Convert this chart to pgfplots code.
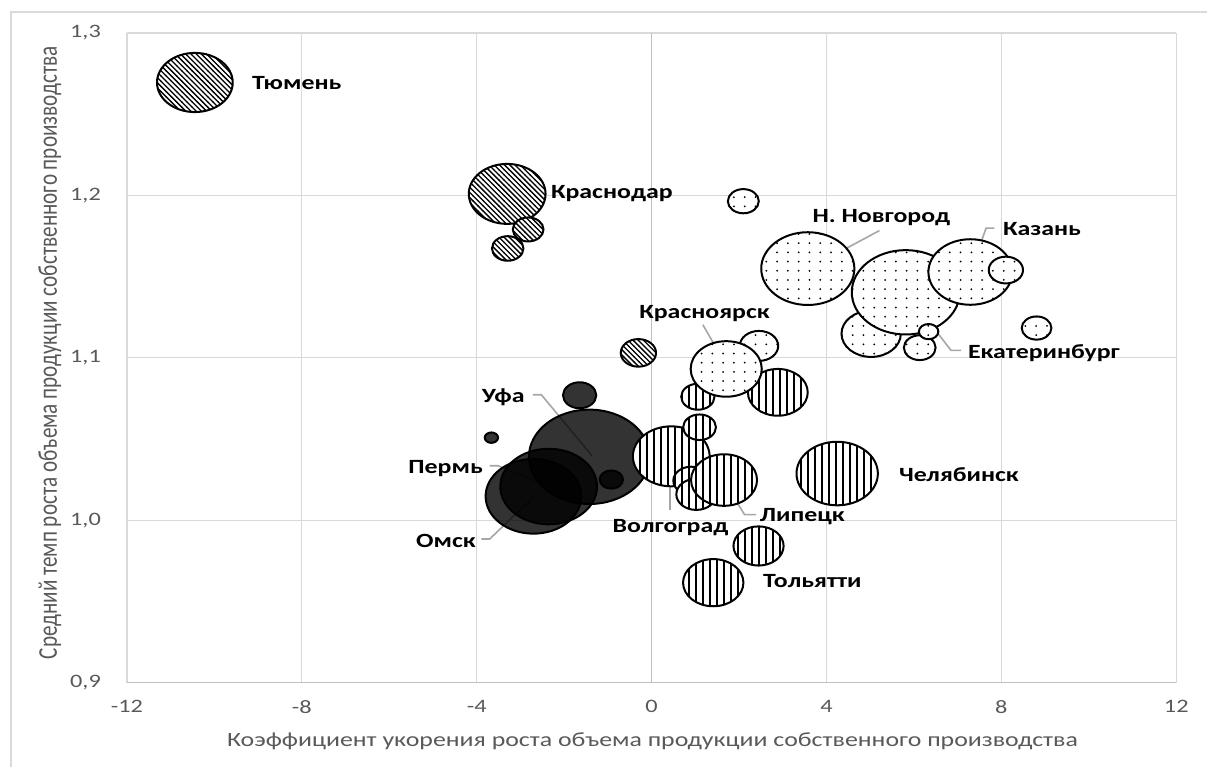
\documentclass[border=0pt]{standalone}
\usepackage{graphicx}
\usepackage{pgfplots}
\pgfplotsset{compat=1.18}
\usepackage{pgfplotstable}
\usetikzlibrary{patterns}
\usepackage{fontspec}
\setmainfont{Carlito}
\newfontfamily\wide[FakeStretch=1.28]{Carlito}
\definecolor{tickgray}{HTML}{595959}
\definecolor{gridgray}{HTML}{D9D9D9}
\definecolor{axgray}{HTML}{BFBFBF}
\definecolor{leadgray}{HTML}{A6A6A6}

% patterns
\pgfdeclarepatternformonly{bvlines}{\pgfqpoint{-1pt}{-1pt}}{\pgfqpoint{4.5pt}{4.5pt}}{\pgfqpoint{3.5pt}{3.5pt}}{%
  \pgfsetlinewidth{0.75pt}\pgfpathmoveto{\pgfqpoint{1.75pt}{-0.5pt}}\pgfpathlineto{\pgfqpoint{1.75pt}{4pt}}\pgfusepath{stroke}}
\pgfdeclarepatternformonly{bhatch}{\pgfqpoint{-1pt}{-1pt}}{\pgfqpoint{3.6pt}{3.6pt}}{\pgfqpoint{2.6pt}{2.6pt}}{%
  \pgfsetlinewidth{0.65pt}\pgfpathmoveto{\pgfqpoint{-0.1pt}{2.7pt}}\pgfpathlineto{\pgfqpoint{2.7pt}{-0.1pt}}\pgfusepath{stroke}}
\pgfdeclarepatternformonly{bdots}{\pgfqpoint{-1pt}{-1pt}}{\pgfqpoint{1pt}{1pt}}{\pgfqpoint{5.4pt}{4.6pt}}{%
  \pgfpathcircle{\pgfpointorigin}{0.5pt}\pgfusepath{fill}}

\newcommand{\bubpath}{\pgfpathellipse{\pgfpointorigin}{\pgfqpoint{1.28\pgfplotmarksize}{0pt}}{\pgfqpoint{0pt}{\pgfplotmarksize}}}
\pgfdeclareplotmark{bubV}{\bubpath\pgfsetfillcolor{white}\pgfusepathqfill
  \bubpath\pgfsetfillpattern{bvlines}{black}\pgfsetstrokecolor{black}\pgfsetlinewidth{1pt}\pgfusepathqfillstroke}
\pgfdeclareplotmark{bubH}{\bubpath\pgfsetfillcolor{white}\pgfusepathqfill
  \bubpath\pgfsetfillpattern{bhatch}{black}\pgfsetstrokecolor{black}\pgfsetlinewidth{1pt}\pgfusepathqfillstroke}
\pgfdeclareplotmark{bubD}{\bubpath\pgfsetfillcolor{white}\pgfusepathqfill
  \bubpath\pgfsetfillpattern{bdots}{black}\pgfsetstrokecolor{black}\pgfsetlinewidth{1pt}\pgfusepathqfillstroke}
\pgfdeclareplotmark{bubK}{\bubpath\pgfsetfillcolor{black}\pgfsetfillopacity{0.8}\pgfsetstrokecolor{black}\pgfsetlinewidth{1pt}\pgfusepathqfillstroke}

\pgfplotstableread{
x y r
-1.424 1.0390 23.6
-1.646 1.0769 6.5
-3.664 1.0508 2.6
-2.354 1.0207 18.9
-2.702 1.0147 18.7
-0.921 1.0250 4.55
}\darkdata

\pgfplotstableread{
x y r
0.450 1.0393 15.0
1.097 1.0572 6.4
1.058 1.0760 6.5
0.907 1.0243 7.0
1.022 1.0159 7.8
1.657 1.0247 12.9
2.887 1.0787 11.7
4.245 1.0287 15.9
2.446 0.9841 9.8
1.410 0.9615 11.8
}\vdata

\pgfplotstableread{
x y r
5.022 1.1148 11.6
6.133 1.1062 6.2
5.813 1.1403 21.1
6.336 1.1161 3.8
7.291 1.1528 16.4
8.103 1.1540 6.7
3.573 1.1549 18.2
2.098 1.1964 6.05
8.805 1.1183 5.8
2.457 1.1073 7.5
1.707 1.0931 13.9
}\ddata

\pgfplotstableread{
x y r
-10.446 1.2695 14.8
-3.303 1.2009 15.0
-2.823 1.1790 6.0
-3.291 1.1673 6.15
-0.302 1.1030 6.9
}\hdata

\pgfplotsset{bubble/.style={scatter, only marks, mark=#1,
  scatter/use mapped color={draw=black,fill=white},
  point meta=\thisrow{r},
  visualization depends on={\thisrow{r}\as\rad},
  scatter/@pre marker code/.append style={/tikz/mark size=\rad}}}

\begin{document}
\begin{tikzpicture}
\begin{axis}[
  scale only axis, width=525pt, height=325pt,
  xmin=-12, xmax=12, ymin=0.9, ymax=1.3,
  xtick={-12,-8,-4,0,4,8,12}, ytick={0.9,1.0,1.1,1.2,1.3},
  xticklabels={-12,-8,-4,0,4,8,12},
  yticklabels={{0,9},{1,0},{1,1},{1,2},{1,3}},
  grid=major, major grid style={draw=gridgray, line width=0.6pt},
  axis line style={draw=none},
  major tick length=0pt,
  ticklabel style={font=\wide\fontsize{9.5}{11}\selectfont, text=tickgray},
  yticklabel style={xshift=-9.5pt},
  xticklabel style={yshift=-5.5pt},
  clip=false,
]
% frame and page box
\path (axis cs:-14.903,0.8483) rectangle (axis cs:12.709,1.3203);
\draw[gridgray, line width=0.75pt] (axis cs:-14.651,0.8483) -- (axis cs:-14.651,1.3129) -- (axis cs:12.709,1.3129);
% axis lines
\draw[axgray, line width=0.75pt] (axis cs:0,0.9) -- (axis cs:0,1.3);
\draw[axgray, line width=0.75pt] (axis cs:-12,0.9) -- (axis cs:12,0.9);

\addplot[bubble=bubK] table[x=x,y=y] {\darkdata};
\addplot[bubble=bubV] table[x=x,y=y] {\vdata};
\addplot[bubble=bubD] table[x=x,y=y] {\ddata};
\addplot[bubble=bubH] table[x=x,y=y] {\hdata};

% leader lines
\begin{scope}[leadgray, line width=0.8pt]
\draw (axis cs:5.211,1.1783) -- (axis cs:3.611,1.1552);
\draw (axis cs:7.840,1.1798) -- (axis cs:7.650,1.1798) -- (axis cs:7.307,1.1537);
\draw (axis cs:7.079,1.1045) -- (axis cs:6.850,1.1045) -- (axis cs:5.822,1.1402);
\draw (axis cs:1.173,1.1203) -- (axis cs:1.744,1.0937);
\draw (axis cs:-2.713,1.0772) -- (axis cs:-2.521,1.0772) -- (axis cs:-1.365,1.0397);
\draw (axis cs:-3.703,1.0335) -- (axis cs:-3.513,1.0335) -- (axis cs:-2.347,1.0208);
\draw (axis cs:-3.893,0.9884) -- (axis cs:-3.703,0.9884) -- (axis cs:-2.697,1.0143);
\draw (axis cs:0.427,1.0065) -- (axis cs:0.427,1.0393);
\draw (axis cs:2.393,1.0034) -- (axis cs:2.126,1.0034) -- (axis cs:1.630,1.0249);
\end{scope}

% data labels
\begin{scope}[every node/.style={anchor=west, inner sep=0pt, text height=6.6pt, text depth=0pt, font=\wide\bfseries\fontsize{10.1}{12}\selectfont, text=black}]
\node at (axis cs:-9.143,1.2692) {Тюмень};
\node at (axis cs:-2.309,1.2023) {Краснодар};
\node at (axis cs:3.673,1.1874) {Н. Новгород};
\node at (axis cs:8.030,1.1794) {Казань};
\node at (axis cs:-0.290,1.1285) {Красноярск};
\node at (axis cs:7.230,1.1039) {Екатеринбург};
\node at (axis cs:-3.893,1.0762) {Уфа};
\node at (axis cs:-5.570,1.0327) {Пермь};
\node at (axis cs:-5.394,0.9874) {Омск};
\node at (axis cs:-0.898,0.9962) {Волгоград};
\node at (axis cs:2.469,1.0034) {Липецк};
\node at (axis cs:5.653,1.0280) {Челябинск};
\node at (axis cs:2.544,0.9623) {Тольятти};
\end{scope}

% axis titles
\node[rotate=90, text=tickgray, inner sep=0pt] at (axis cs:-13.76,1.103) {\scalebox{1}[1.28]{\fontsize{10.6}{13}\selectfont Средний темп роста объема продукции собственного производства}};
\node[text=tickgray, inner sep=0pt, font=\wide\fontsize{10.1}{12}\selectfont] at (axis cs:0.02,0.8637) {Коэффициент укорения роста объема продукции собственного производства};
\end{axis}
\end{tikzpicture}
\end{document}
